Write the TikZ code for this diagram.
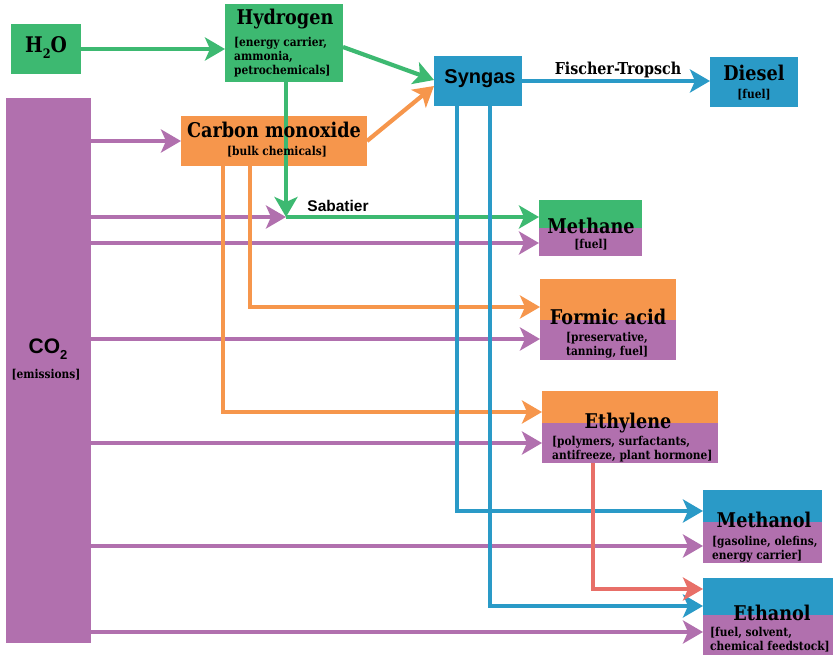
\documentclass[tikz,border=0pt]{standalone}
\usepackage{fontspec}
\setmainfont{DejaVu Serif}[FakeStretch=0.87]
\newfontfamily\sansb{Liberation Sans}
\usetikzlibrary{arrows.meta}
\definecolor{cgreen}{HTML}{3DB971}
\definecolor{cpurple}{HTML}{B170AE}
\definecolor{corange}{HTML}{F6964C}
\definecolor{cblue}{HTML}{2A9AC7}
\definecolor{cred}{HTML}{E86F68}
\newcommand{\lowsub}[1]{\raisebox{-0.28em}{\fontsize{13}{13}\selectfont #1}}
\begin{document}
\begin{tikzpicture}[x=1pt,y=-1pt,
  box/.style={inner sep=0pt,outer sep=0pt,anchor=north west},
  ttl/.style={font=\bfseries\fontsize{20.3}{22}\selectfont,inner sep=0pt},
  sub/.style={font=\bfseries\fontsize{12.2}{14}\selectfont,inner sep=0pt,align=left},
  sans/.style={font=\sansb\bfseries\fontsize{#1}{#1}\selectfont,inner sep=0pt},
  arr/.style={line width=4.2pt,-{Stealth[length=20pt,width=23pt,inset=5pt]}}
]
\useasboundingbox (0,0) rectangle (833,656);
% boxes
\node[box,fill=cgreen,minimum width=70pt,minimum height=50pt] (h2o) at (11,24) {};
\node[box,fill=cgreen,minimum width=118pt,minimum height=78pt] (hyd) at (225,4) {};
\node[box,fill=cpurple,minimum width=85pt,minimum height=545pt] (co2) at (6,98) {};
\node[box,fill=corange,minimum width=186pt,minimum height=50pt] (co) at (181,116) {};
\node[box,fill=cblue,minimum width=88pt,minimum height=50pt] (syn) at (434,56) {};
\node[box,fill=cblue,minimum width=88pt,minimum height=50pt] (die) at (710,57) {};
\node[box,fill=cgreen,minimum width=103pt,minimum height=56pt] (met) at (539,200) {};
\fill[cpurple] (met.south west) rectangle ([yshift=28pt]met.south east);
\node[box,fill=corange,minimum width=136pt,minimum height=81pt] (for) at (540,279) {};
\fill[cpurple] (for.south west) rectangle ([yshift=40pt]for.south east);
\node[box,fill=corange,minimum width=176pt,minimum height=72pt] (eth) at (542,391) {};
\fill[cpurple] (eth.south west) rectangle ([yshift=40pt]eth.south east);
\node[box,fill=cblue,minimum width=119pt,minimum height=73pt] (mol) at (703,490) {};
\fill[cpurple] (mol.south west) rectangle ([yshift=41pt]mol.south east);
\node[box,fill=cblue,minimum width=130pt,minimum height=77pt] (eol) at (703,578) {};
\fill[cpurple] (eol.south west) rectangle ([yshift=40pt]eol.south east);
% coordinates
\coordinate (sab) at (286,217);
\coordinate (synH) at (434,80);
\coordinate (synC) at (434,86);
\coordinate (metG) at (539,217);
\coordinate (metP) at (539,243);
\coordinate (forO) at (540,307);
\coordinate (forP) at (540,339);
\coordinate (ethO) at (542,412);
\coordinate (ethP) at (542,443);
\coordinate (molB) at (703,511);
\coordinate (molP) at (703,546);
\coordinate (eolR) at (703,589);
\coordinate (eolB) at (703,606);
\coordinate (eolP) at (703,632);
\coordinate (coL) at (223,166);
\coordinate (coR) at (250,166);
\coordinate (synL) at (457,106);
\coordinate (synR) at (490,106);
\coordinate (ethR) at (593,463);
% purple
\draw[arr,cpurple] (co.west -| co2.east) -- (co.west);
\draw[arr,cpurple] (sab -| co2.east) -- (sab);
\draw[arr,cpurple] (metP -| co2.east) -- (metP);
\draw[arr,cpurple] (forP -| co2.east) -- (forP);
\draw[arr,cpurple] (ethP -| co2.east) -- (ethP);
\draw[arr,cpurple] (molP -| co2.east) -- (molP);
\draw[arr,cpurple] (eolP -| co2.east) -- (eolP);
% orange
\draw[arr,corange] (coR) |- (forO);
\draw[arr,corange] (coL) |- (ethO);
\draw[arr,corange] (co.east) -- (synC);
% green
\draw[arr,cgreen] (h2o.east) -- (h2o.east -| hyd.west);
\draw[arr,cgreen] ([yshift=-4pt]hyd.east) -- (synH);
\draw[arr,cgreen] (sab |- hyd.south) -- (sab);
\draw[arr,cgreen] (sab) -- (metG);
% blue
\draw[arr,cblue] (syn.east) -- (syn.east -| die.west);
\draw[arr,cblue] (synL) |- (molB);
\draw[arr,cblue] (synR) |- (eolB);
% red
\draw[arr,cred] (ethR) |- (eolR);
% texts
\node[font=\bfseries\fontsize{21.5}{24}\selectfont,inner sep=0pt] (h2oT) at (46,48) {H\lowsub{2}O};
\node[ttl] (hydT) at (285,19) {Hydrogen};
\node[sub,anchor=west] (hydS) at (234,57) {[energy carrier,\\ammonia,\\petrochemicals]};
\node[ttl] (coT) at (274,130) {Carbon monoxide};
\node[sub] (coS) at (277,152) {[bulk chemicals]};
\node[sans=21] (co2T) at (48,349) {CO\lowsub{2}};
\node[sub] (co2S) at (46,375) {[emissions]};
\node[sans=20] (synT) at (480,79) {Syngas};
\node[ttl] (dieT) at (754,73) {Diesel};
\node[sub] (dieS) at (754,95) {[fuel]};
\node[font=\bfseries\fontsize{16.4}{18}\selectfont,inner sep=0pt] (ftT) at (618,70) {Fischer-Tropsch};
\node[sans=15.5] (sabT) at (338,206) {Sabatier};
\node[ttl] (metT) at (591,226) {Methane};
\node[sub] (metS) at (591,245) {[fuel]};
\node[ttl] (forT) at (608,317) {Formic acid};
\node[sub,anchor=west] (forS) at (566,345) {[preservative,\\tanning, fuel]};
\node[ttl] (ethT) at (628,423) {Ethylene};
\node[sub,anchor=west] (ethS) at (552,449) {[polymers, surfactants,\\antifreeze, plant hormone]};
\node[ttl] (molT) at (764,520) {Methanol};
\node[sub,anchor=west] (molS) at (712,549) {[gasoline, olefins,\\energy carrier]};
\node[ttl] (eolT) at (772,613) {Ethanol};
\node[sub,anchor=west] (eolS) at (710,640) {[fuel, solvent,\\chemical feedstock]};
\end{tikzpicture}
\end{document}
